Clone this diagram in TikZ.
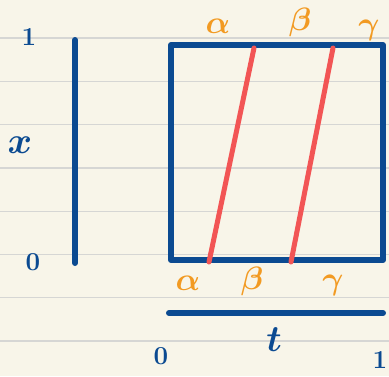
\documentclass[tikz,border=0pt]{standalone}
\usepackage{amsmath,bm,graphicx}
\definecolor{paper}{HTML}{F8F5E9}
\definecolor{rule}{HTML}{D6D6D4}
\definecolor{ink}{HTML}{0B4A91}
\definecolor{orng}{HTML}{F29A22}
\definecolor{redl}{HTML}{F25555}
\newcommand\gk[1]{\scalebox{1.3}{$\bm{#1}$}}
\newcommand\bv[1]{\scalebox{1.5}{$\bm{#1}$}}
\newcommand\dg[1]{\scalebox{1.25}{#1}}
\tikzset{
  bluestroke/.style={draw=ink, line width=6pt, line cap=round},
  redstroke/.style={draw=redl, line width=5pt, line cap=round},
  ruleline/.style={draw=rule, line width=1.2pt},
  greek/.style={text=orng, font=\Huge, inner sep=0pt},
  bluetxt/.style={text=ink, font=\Huge, inner sep=0pt},
  digit/.style={text=ink, font=\huge\bfseries, inner sep=0pt},
}
\begin{document}
\begin{tikzpicture}[x=1pt,y=-1pt]
\fill[paper] (0,0) rectangle (389,376);
\useasboundingbox (0,0) rectangle (389,376);
\foreach \yy in {38,81.3,124.6,168,211.2,254.5,297.8,341}
  \draw[ruleline] (0,\yy) -- (389,\yy);
% left x-axis
\coordinate (xa) at (75,40);
\coordinate (xb) at (75,263);
\draw[bluestroke] (xa) -- (xb);
% square
\coordinate (sq1) at (171,45);
\coordinate (sq2) at (383,260);
\draw[draw=ink, line width=6pt, line join=round] (sq1) rectangle (sq2);
% red lines
\coordinate (a1) at (254,48);
\coordinate (a2) at (209,262);
\coordinate (b1) at (333,48);
\coordinate (b2) at (291,262);
\draw[redstroke] (a1) -- (a2);
\draw[redstroke] (b1) -- (b2);
% t axis
\coordinate (ta) at (169,313);
\coordinate (tb) at (383,313);
\draw[bluestroke] (ta) -- (tb);
% labels
\node[digit] (one1) at (29,37) {\dg{1}};
\node[bluetxt] (xl) at (20,145) {\bv{x}};
\node[digit] (zero1) at (33,262) {\dg{0}};
\node[digit] (zero2) at (161,356) {\dg{0}};
\node[bluetxt] (tl) at (274,340) {\bv{t}};
\node[digit] (one2) at (380,360) {\dg{1}};
\node[greek] (al1) at (218,26) {\gk{\alpha}};
\node[greek] (be1) at (300,22) {\gk{\beta}};
\node[greek] (ga1) at (369,30) {\gk{\gamma}};
\node[greek] (al2) at (188,283) {\gk{\alpha}};
\node[greek] (be2) at (252,281) {\gk{\beta}};
\node[greek] (ga2) at (333,285) {\gk{\gamma}};
\end{tikzpicture}
\end{document}
